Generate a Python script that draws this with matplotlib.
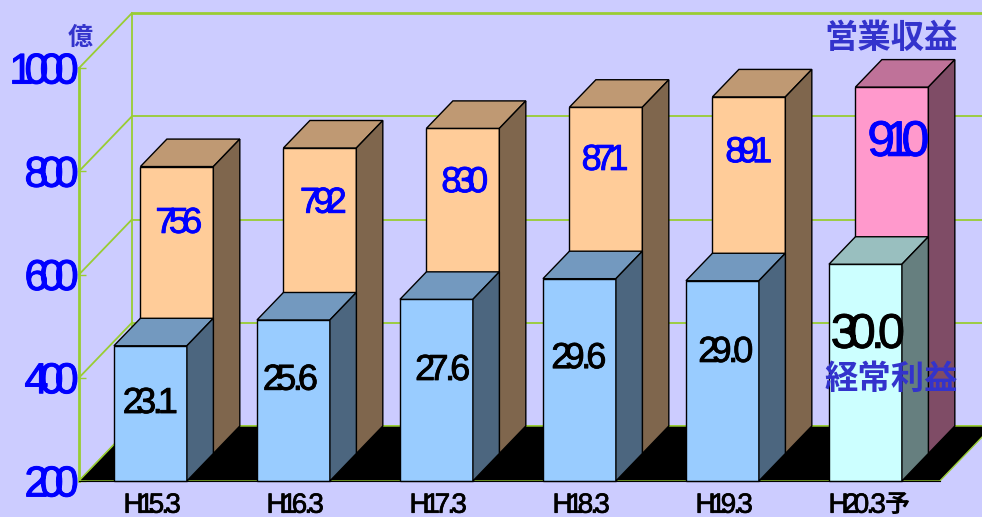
import matplotlib
matplotlib.use("Agg")
import matplotlib.pyplot as plt
import matplotlib.patheffects as pe
from matplotlib.patches import Polygon

# data
categories = ['H15.3', 'H16.3', 'H17.3', 'H18.3', 'H19.3', 'H20.3予']
revenue = [756, 792, 830, 871, 891, 910]
profit = [23.1, 25.6, 27.6, 29.6, 29.0, 30.0]
# height of the profit bars on the left scale
profit_height = [462, 512, 552, 592, 588, 620]
yticks = [200, 400, 600, 800, 1000]

# layout of the fake 3d box, x in categories and y in axis units
BASE = 200
TOP = 1000
BAR_W = 0.51
DEPTH_X = 0.37
DEPTH_Y = 106.5
XLEFT = -0.5
XRIGHT = 5.52

# label placement
rev_label_x = [0.20, 0.21, 0.20, 0.18, 0.185, 0.23]
rev_label_y = [699, 738, 778, 821, 836, 855]
rev_label_size = [26, 26, 26, 26, 26, 36]
prof_label_x = [0.0, -0.02, 0.045, -0.003, 0.025, 0.017]
prof_label_y = [350, 395, 414, 437, 449, 482]
prof_label_size = [26, 26, 26, 26, 26, 35]

BG = '#CCCCFF'
GREEN = '#99CC33'
TITLE = '#3333CC'
CJK = ['Noto Sans CJK JP', 'DejaVu Sans']

plt.rcParams['font.family'] = ['Liberation Sans', 'Noto Sans CJK JP']

fig = plt.figure(figsize=(9.82, 5.17), dpi=100, facecolor=BG)
ax = fig.add_axes([0, 0, 1, 1], facecolor=BG)
ax.set_xlim(-1.052, 5.815)
ax.set_ylim(130.2, 1132)


def tight(s, gap=-0.19):
    # the original squeezes its digits together, mathtext spacing does the same
    out = ''
    for n, c in enumerate(s):
        out += c
        if n < len(s) - 1:
            if c == '.':
                out += r'\hspace{-0.34}'
            elif s[n + 1] == '.':
                out += r'\hspace{-0.1}'
            else:
                out += r'\hspace{%g}' % gap
    return r'$\mathregular{' + out + '}$'


def fat(t, color, w=0.6):
    t.set_path_effects([pe.withStroke(linewidth=w, foreground=color)])


def pt(x, v, d=0.0):
    # d is the depth: 0 front of the box, 1 back wall
    return (x + d * DEPTH_X, v + d * DEPTH_Y)


def box(i, v, d0, d1, front, top, side):
    x0 = i - BAR_W / 2
    x1 = i + BAR_W / 2
    faces = [
        ([pt(x0, BASE, d0), pt(x1, BASE, d0), pt(x1, v, d0), pt(x0, v, d0)], front),
        ([pt(x0, v, d0), pt(x1, v, d0), pt(x1, v, d1), pt(x0, v, d1)], top),
        ([pt(x1, BASE, d0), pt(x1, BASE, d1), pt(x1, v, d1), pt(x1, v, d0)], side),
    ]
    for verts, col in faces:
        ax.add_patch(Polygon(verts, closed=True, facecolor=col, edgecolor='black',
                             linewidth=1.0, zorder=2))


# walls
for v in yticks:
    lw = 2 if v == TOP else 1.3
    x, y = zip(pt(XLEFT, v, 1), pt(XRIGHT + 1, v, 1))
    ax.plot(x, y, color=GREEN, lw=lw, zorder=1)
    x, y = zip(pt(XLEFT, v, 0), pt(XLEFT, v, 1))
    ax.plot(x, y, color=GREEN, lw=1.3, zorder=1)
x, y = zip(pt(XLEFT, BASE, 1), pt(XLEFT, TOP, 1))
ax.plot(x, y, color=GREEN, lw=1.3, zorder=1)

# black floor
ax.add_patch(Polygon([pt(XLEFT, BASE, 0), pt(XRIGHT, BASE, 0), pt(XRIGHT, BASE, 1), pt(XLEFT, BASE, 1)],
                     closed=True, facecolor='black', edgecolor=GREEN, linewidth=1.0, zorder=1.5))

# back row then front row
for i, v in enumerate(revenue):
    if i == 5:
        box(i, v, 0.5, 1.0, '#FF99CC', '#BF7299', '#7F4C66')
    else:
        box(i, v, 0.5, 1.0, '#FFCC99', '#BF9973', '#7F664D')
for i, v in enumerate(profit_height):
    if i == 5:
        box(i, v, 0.0, 0.5, '#CCFFFF', '#99BFBF', '#667F7F')
    else:
        box(i, v, 0.0, 0.5, '#99CCFF', '#7399BF', '#4C667F')

for i, v in enumerate(revenue):
    gap = -0.22 if i == 5 else -0.19
    t = ax.text(i + rev_label_x[i], rev_label_y[i], tight(str(v), gap), color='#0000FF', ha='center', va='center',
                fontsize=rev_label_size[i], zorder=4)
    fat(t, '#0000FF')
for i, v in enumerate(profit):
    t = ax.text(i + prof_label_x[i], prof_label_y[i], tight('%.1f' % v), color='black', ha='center', va='center',
                fontsize=prof_label_size[i], zorder=4)
    fat(t, 'black')

# axes
for s in ['top', 'right']:
    ax.spines[s].set_visible(False)
ax.spines['left'].set_position(('data', XLEFT))
ax.spines['left'].set_bounds(BASE, TOP)
ax.spines['left'].set_color(GREEN)
ax.spines['left'].set_linewidth(2)
ax.spines['bottom'].set_position(('data', BASE))
ax.spines['bottom'].set_bounds(XLEFT, XRIGHT)
ax.spines['bottom'].set_color('black')
ax.set_yticks(yticks)
ax.set_yticklabels([tight(str(v), -0.21) for v in yticks], color='#0000FF', fontsize=31)
ax.tick_params(axis='y', direction='in', length=5, width=1, color=GREEN, pad=0)
for t in ax.get_yticklabels():
    fat(t, '#0000FF', 0.7)
xpos = [i + 0.015 for i in range(len(categories))]
xpos[-1] = 4.945
ax.set_xticks(xpos)
# 予 is not in the math font, it goes next to the last label
ax.set_xticklabels([tight(c.replace('予', '')) for c in categories], color='black', fontsize=20)
ax.tick_params(axis='x', length=0, pad=8.5)
for t in ax.get_xticklabels():
    fat(t, 'black', 0.5)
ax.text(5.225, 154, '予', color='black', fontsize=18, fontweight='bold', family=CJK, ha='center', va='center', zorder=4)

# titles
ax.text(-0.49, 1058, '億', color=TITLE, fontsize=18, fontweight='bold', family=CJK, ha='center', va='center', zorder=4)
ax.text(5.18, 1058, '営業収益', color=TITLE, fontsize=24, fontweight='bold', family=CJK, ha='center', va='center', zorder=4)
ax.text(5.18, 396, '経常利益', color=TITLE, fontsize=24, fontweight='bold', family=CJK, ha='center', va='center', zorder=4)

fig.savefig('out.png', dpi=100, facecolor=BG)
